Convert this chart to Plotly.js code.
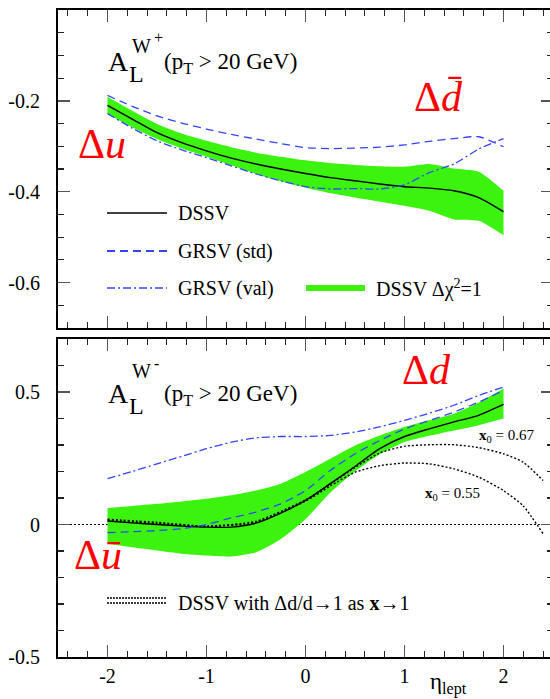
<!DOCTYPE html>
<html><head><meta charset="utf-8">
<script src="https://cdn.plot.ly/plotly-3.0.1.min.js"></script>
<style>html,body{margin:0;padding:0;overflow:hidden;background:#fff}</style>
</head><body><div id="plot"></div>
<script>
// ---------- data ----------
const etaGrid = [-2,-1.75,-1.5,-1.25,-1,-0.75,-0.5,-0.25,0,0.25,0.5,0.75,1,1.25,1.5,1.75,2];
// W+ panel
const wpDSSV   = [-0.21,-0.240,-0.270,-0.292,-0.31,-0.326,-0.339,-0.350,-0.36,-0.369,-0.376,-0.383,-0.389,-0.392,-0.398,-0.413,-0.444];
const wpBandUp = [-0.191,-0.222,-0.251,-0.272,-0.288,-0.302,-0.314,-0.323,-0.331,-0.337,-0.341,-0.344,-0.345,-0.339,-0.349,-0.356,-0.398];
const wpBandLo = [-0.229,-0.258,-0.284,-0.305,-0.323,-0.342,-0.361,-0.377,-0.391,-0.403,-0.413,-0.422,-0.431,-0.442,-0.461,-0.464,-0.496];
const wpGRSVstd = [-0.188,-0.212,-0.233,-0.249,-0.262,-0.274,-0.284,-0.294,-0.303,-0.305,-0.304,-0.302,-0.297,-0.289,-0.283,-0.279,-0.301];
const wpGRSVval = [-0.228,-0.260,-0.288,-0.308,-0.325,-0.343,-0.361,-0.376,-0.389,-0.394,-0.393,-0.394,-0.385,-0.358,-0.339,-0.306,-0.283];
// W- panel
const wmDSSV   = [0.013,0.006,0.0,-0.006,-0.01,-0.01,0.005,0.043,0.091,0.154,0.219,0.286,0.332,0.361,0.387,0.412,0.453];
const wmBandUp = [0.062,0.070,0.078,0.087,0.097,0.110,0.128,0.154,0.198,0.248,0.298,0.336,0.368,0.393,0.418,0.46,0.513];
const wmBandLo = [-0.073,-0.086,-0.098,-0.110,-0.117,-0.121,-0.105,-0.055,0.02,0.12,0.2,0.265,0.311,0.335,0.355,0.375,0.40];
const wmGRSVstd = [-0.031,-0.027,-0.023,-0.016,0.0,0.025,0.047,0.078,0.128,0.204,0.267,0.317,0.361,0.392,0.424,0.462,0.506];
const wmGRSVval = [0.173,0.200,0.229,0.257,0.286,0.311,0.327,0.332,0.332,0.336,0.349,0.368,0.393,0.420,0.45,0.487,0.519];
const etaLong = [-2,-1.5,-1,-0.5,0,0.25,0.5,0.75,1,1.25,1.5,1.75,2,2.2,2.4];
const wmX067 = [0.02,0.008,-0.006,0.012,0.093,0.152,0.215,0.27,0.295,0.301,0.301,0.29,0.267,0.235,0.166];
const wmX055 = [0.015,0.004,-0.008,0.008,0.088,0.145,0.197,0.222,0.232,0.229,0.21,0.179,0.128,0.07,-0.035];
// ticks
const xTickVals = [-2,-1,0,1,2];
const xTickText = ['-2','-1','0','1','2'];
const yTopTickVals = [-0.6,-0.4,-0.2];
const yTopTickText = ['-0.6','-0.4','-0.2'];
const yBotTickVals = [-0.5,0,0.5];
const yBotTickText = ['-0.5','0','0.5'];

// ---------- style ----------
const GREEN = '#3cf20f', BLUE = '#3344ff', RED = '#ff0000';
const SERIF = 'Liberation Serif, Times New Roman, serif';
const W = 556, H = 699, ML = 58, MR = 3, MT = 10, MB = 42;
const PL = ML, PR = W - MR, PT = MT, PB = H - MB;
const px = v => (v - PL) / (PR - PL);
const py = v => (PB - v) / (PB - PT);

function line(x, y, xa, ya, color, width, dash) {
  return {x, y, xaxis: xa, yaxis: ya, type: 'scatter', mode: 'lines',
          line: {color, width, dash, shape: 'spline', smoothing: 0.6}, hoverinfo: 'skip', showlegend: false};
}
function band(x, lo, up, xa, ya) {
  return [
    {x, y: lo, xaxis: xa, yaxis: ya, type: 'scatter', mode: 'lines', line: {width: 0, shape: 'spline', smoothing: 0.6}, hoverinfo: 'skip', showlegend: false},
    {x, y: up, xaxis: xa, yaxis: ya, type: 'scatter', mode: 'lines', line: {width: 0, shape: 'spline', smoothing: 0.6}, fill: 'tonexty', fillcolor: GREEN, hoverinfo: 'skip', showlegend: false}
  ];
}
const DASH = '8px,5px', DASHDOT = '8px,3px,2px,3px';
const traces = [
  ...band(etaGrid, wpBandLo, wpBandUp, 'x2', 'y2'),
  line(etaGrid, wpDSSV, 'x2', 'y2', '#000', 1.4, 'solid'),
  line(etaGrid, wpGRSVstd, 'x2', 'y2', BLUE, 1.3, DASH),
  line(etaGrid, wpGRSVval, 'x2', 'y2', BLUE, 1.3, DASHDOT),
  ...band(etaGrid, wmBandLo, wmBandUp, 'x', 'y'),
  line(etaLong, wmX067, 'x', 'y', '#000', 1.4, '2px,2px'),
  line(etaLong, wmX055, 'x', 'y', '#000', 1.4, '2px,2px'),
  line(etaGrid, wmDSSV, 'x', 'y', '#000', 1.4, 'solid'),
  line(etaGrid, wmGRSVstd, 'x', 'y', BLUE, 1.3, DASH),
  line(etaGrid, wmGRSVval, 'x', 'y', BLUE, 1.3, DASHDOT)
];

function xAxis(anchor, labels) {
  return {range: [-2.5, 2.5], anchor, showline: true, linewidth: 2, linecolor: '#000', mirror: 'allticks',
          ticks: 'inside', ticklen: 12, tickwidth: 1.3, tickcolor: '#555', tickvals: xTickVals, ticktext: xTickText,
          showticklabels: labels, showgrid: false, zeroline: false, ticklabelstandoff: 0,
          tickfont: {family: SERIF, size: 20, color: '#000'},
          minor: {dtick: 0.2, tick0: 0, ticks: 'inside', ticklen: 6, tickwidth: 1.1, tickcolor: '#222', showgrid: false}};
}
function yAxis(anchor, domain, range, tv, tt, minorStep) {
  return {domain, range, anchor, showline: true, linewidth: 2, linecolor: '#000', mirror: 'allticks',
          ticks: 'inside', ticklen: 12, tickwidth: 1.3, tickcolor: '#555', tickvals: tv, ticktext: tt,
          showgrid: false, zeroline: false, ticklabelstandoff: 12,
          tickfont: {family: SERIF, size: 20, color: '#000'},
          minor: {dtick: minorStep, tick0: 0, ticks: 'inside', ticklen: 6, tickwidth: 1.1, tickcolor: '#222', showgrid: false}};
}

const ann = [];
function txt(x, y, text, size, opts) {
  ann.push(Object.assign({xref: 'paper', yref: 'paper', x: px(x), y: py(y), text, showarrow: false,
    xanchor: 'left', yanchor: 'middle', font: {family: SERIF, size, color: '#000'}}, opts || {}));
}
// W+ title
txt(106, 62, 'A', 28);
txt(127, 74, 'L', 24);
txt(130, 46, 'W', 20);
txt(152, 37, '+', 16);
txt(162, 63, '(p<sub>T</sub> &gt; 20 GeV)', 23);
// W- title
txt(106, 393, 'A', 28);
txt(127, 406, 'L', 24);
txt(130, 371, 'W', 20);
txt(152, 364, '-', 16);
txt(162, 395, '(p<sub>T</sub> &gt; 20 GeV)', 23);
// red flavour labels
const RF = {family: SERIF, size: 42, color: RED};
txt(76, 144, 'Δ<i>u</i>', 42, {font: RF});
txt(412, 97, 'Δ<i>d\u0304</i>', 42, {font: RF});
txt(400, 370, 'Δ<i>d</i>', 42, {font: RF});
txt(72, 555, 'Δ<i>u\u0304</i>', 42, {font: RF});
// top legend
txt(176, 213, 'DSSV', 20);
txt(176, 251, 'GRSV (std)', 20);
txt(176, 288, 'GRSV (val)', 20);
txt(374, 288, 'DSSV Δχ<sup>2</sup>=1', 20);
// bottom legend
txt(176, 603, 'DSSV with Δd/d→1 as <b>x</b>→1', 20);
// x0 labels
txt(477, 436, '<b>x</b><sub>0</sub> = 0.67', 15);
txt(423, 494, '<b>x</b><sub>0</sub> = 0.55', 15);
// axis title
txt(428, 684, 'η<sub>lept</sub>', 23);

function seg(x0, x1, y, color, width, dash) {
  return {type: 'line', xref: 'paper', yref: 'paper', x0: px(x0), x1: px(x1), y0: py(y), y1: py(y),
          line: {color, width, dash}};
}
const shapes = [
  {type: 'line', xref: 'x', yref: 'y', x0: -2.5, x1: 2.5, y0: 0, y1: 0, layer: 'below', line: {color: '#000', width: 1, dash: '2px,2px'}},
  seg(107, 167, 213, '#000', 1.4, 'solid'),
  seg(107, 167, 251, BLUE, 2, DASH),
  seg(107, 167, 288, BLUE, 1.3, DASHDOT),
  seg(306, 365, 288, GREEN, 6, 'solid'),
  seg(107, 166, 598, '#000', 1.4, '2px,1px'),
  seg(107, 166, 603, '#000', 1.4, '2px,1px')
];

const layout = {
  width: W, height: H, margin: {l: ML, r: MR, t: MT, b: MB}, paper_bgcolor: '#fff', plot_bgcolor: '#fff',
  showlegend: false,
  xaxis: xAxis('y', true),
  xaxis2: xAxis('y2', false),
  yaxis: yAxis('x', [0, (PB - 339) / (PB - PT)], [-0.5, 0.7], yBotTickVals, yBotTickText, 0.1),
  yaxis2: yAxis('x2', [(PB - 328) / (PB - PT), 1], [-0.7, 0], yTopTickVals, yTopTickText, 0.05),
  annotations: ann, shapes
};
Plotly.newPlot('plot', traces, layout, {displayModeBar: false, staticPlot: true});
</script></body></html>
